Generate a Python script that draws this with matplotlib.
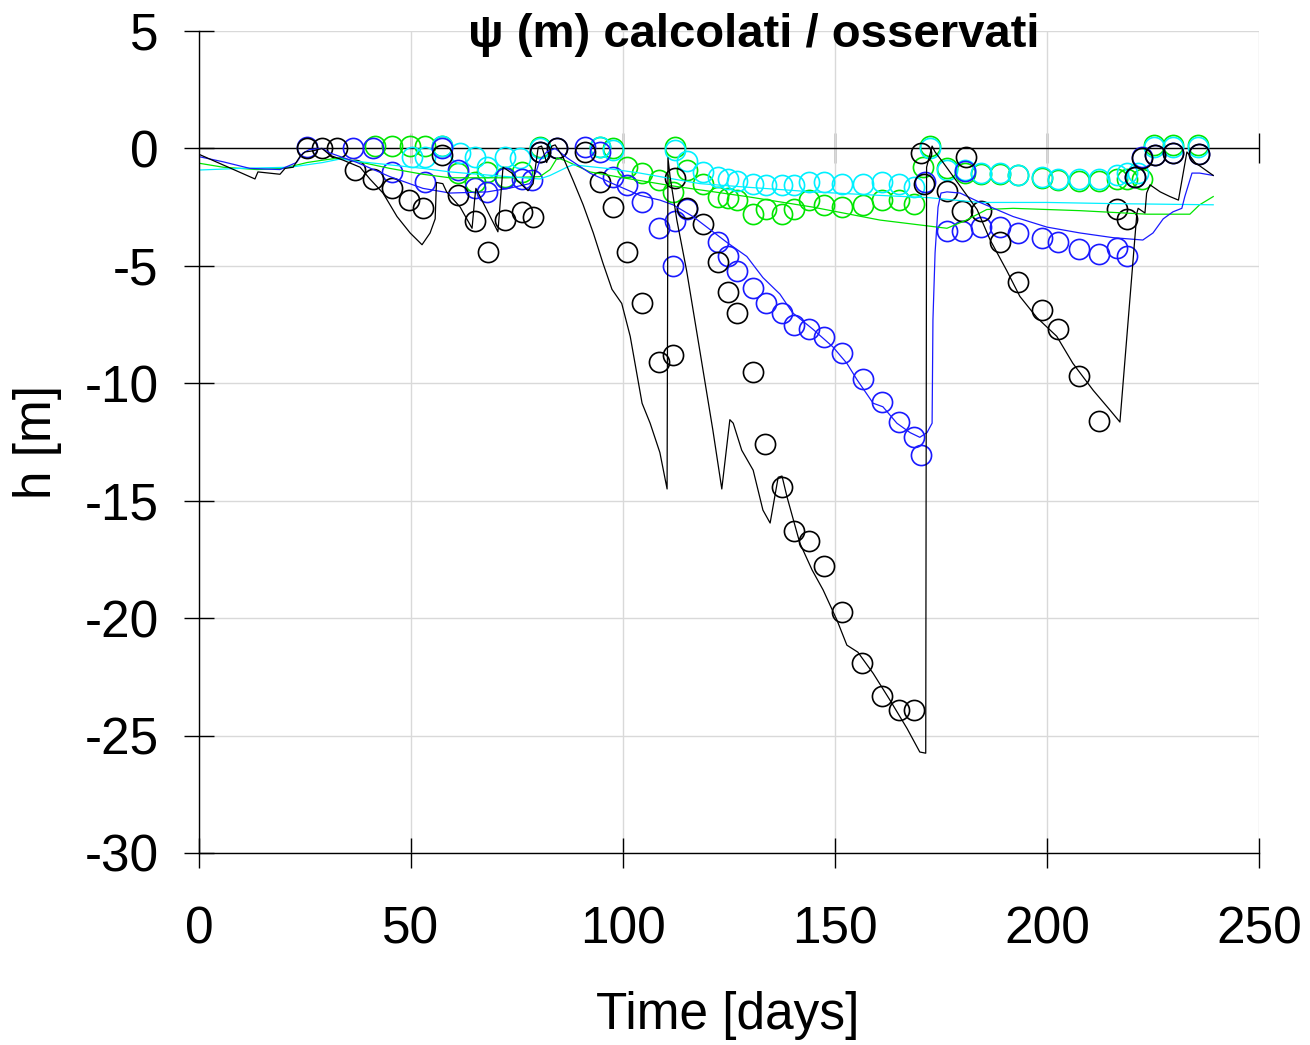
import numpy as np
import matplotlib
matplotlib.use("Agg")
import matplotlib.pyplot as plt

plt.rcParams['font.family'] = ['Liberation Sans', 'DejaVu Sans']
plt.rcParams['axes.unicode_minus'] = False

# simulated (lines)
t_blk = [0, 13.2, 13.9, 19.1, 20.3, 22.2, 23.8, 25, 27, 29, 31, 34, 38, 40.3, 43.4, 46.7, 49.8, 52.6,
         54.5, 55.7, 56, 57.5, 58.4, 61.6, 64.4, 65, 65.3, 70.5, 71.7, 73.8, 75, 77.6, 78.8, 80, 80.8,
         82, 83.2, 84, 85.8, 88.2, 90.6, 93, 95.3, 97.4, 99.7, 101.7, 104.5, 106.4, 108.7, 110.4,
         110.6, 111.1, 112.7, 115, 118.2, 121.2, 123.3, 125.2, 126, 128, 130.7, 133, 134.7, 136.6,
         137.5, 138.7, 141.7, 144.6, 147.2, 150.5, 152.8, 155.4, 159, 163, 167, 170, 171.4, 171.6,
         172.9, 173.6, 175.5, 179.5, 183.5, 186.6, 190.5, 193.6, 197.6, 202.3, 206.1, 210.9, 214.9,
         217.2, 221.2, 221.5, 223.1, 223.5, 224.3, 226.7, 229, 231, 233, 234.9, 239.2]
h_blk = [-0.25, -1.3, -1.0, -1.1, -0.85, -0.8, -0.35, -0.15, -0.1, 0.0, -0.3, -0.5, -0.8, -1.3, -1.9,
         -2.9, -3.6, -4.1, -3.6, -3.0, -1.45, -1.5, -1.85, -2.5, -3.4, -2.2, -1.7, -3.55, -0.8, -1.05,
         -1.35, -1.8, -1.5, 0.05, 0.1, -0.6, 0.1, 0.15, -0.35, -1.35, -2.4, -3.6, -4.9, -6.0, -6.6,
         -8.0, -10.85, -11.7, -12.95, -14.5, -0.4, -1.2, -3.05, -5.2, -8.7, -12.0, -14.5, -11.55,
         -11.7, -12.85, -13.7, -15.4, -15.95, -14.0, -13.95, -14.85, -16.8, -17.95, -18.8, -20.1,
         -21.15, -21.45, -22.35, -23.5, -24.7, -25.7, -25.75, -0.8, 0.1, -0.15, -0.6, -1.6, -2.6,
         -3.9, -5.2, -6.3, -7.2, -8.0, -9.15, -10.3, -11.15, -11.65, -2.75, -2.55, -2.75, -1.9,
         -1.55, -1.85, -2.05, -2.2, -0.15, -0.6, -1.15]

t_blu = [0, 5.7, 12, 19.1, 23, 24.5, 26, 29, 31, 37.3, 45, 52.8, 59.2, 68, 73, 78, 79.5, 80.4, 82, 84,
         86.8, 92.2, 97.6, 104, 108.7, 111.8, 116.5, 120.5, 124.5, 129.2, 133, 137, 140, 144.8,
         149.5, 152.8, 155.2, 159, 161.3, 164.6, 167.7, 170, 171.7, 172.9, 173.1, 173.6, 174.3, 175,
         176.4, 179.5, 184.2, 192, 200, 207.8, 215.6, 222.6, 225, 227.4, 229.7, 231.8, 232.5, 234.2,
         236, 239.2]
h_blu = [-0.35, -0.57, -0.85, -0.9, -0.6, -0.2, -0.05, 0.0, -0.2, -0.6, -1.2, -1.7, -1.9, -1.85,
         -1.7, -1.5, -1.0, -0.5, -0.15, 0.0, -0.4, -1.05, -1.5, -2.0, -2.2, -2.4, -2.9, -3.45, -4.0,
         -4.6, -5.5, -6.2, -7.0, -7.7, -8.45, -9.15, -9.85, -10.85, -11.0, -11.7, -12.1, -12.3,
         -12.1, -11.7, -7.3, -4.45, -2.5, -1.9, -1.85, -1.9, -2.3, -2.9, -3.35, -3.6, -3.8, -3.9,
         -3.6, -3.0, -2.7, -2.55, -2.05, -1.05, -1.05, -1.15]

t_cya = [0, 9.7, 21.5, 29.2, 33.3, 37.2, 45, 52.8, 59.2, 72.6, 80.4, 82.8, 86.8, 88.2, 96.2, 104,
         113.4, 118.2, 129.2, 144.8, 160.6, 172.4, 184, 200, 215.6, 239.2]
h_cya = [-0.92, -0.85, -0.8, -0.6, -0.45, -0.55, -0.7, -0.85, -1.0, -1.2, -1.3, -1.15, -0.8, -0.7,
         -0.85, -1.05, -1.35, -1.5, -1.65, -1.85, -2.0, -2.1, -2.3, -2.3, -2.35, -2.4]

t_grn = [0, 5.7, 13.7, 19.8, 25.5, 29.2, 33.3, 37.2, 45, 52.8, 59.2, 72.6, 80.4, 82.8, 84.5, 86.8,
         92.2, 100, 111.8, 129.2, 144.8, 160.6, 176.4, 181, 185.8, 192, 207.8, 223.6, 233.7, 236,
         239.2]
h_grn = [-0.63, -0.8, -0.9, -0.85, -0.6, -0.5, -0.4, -0.55, -0.85, -1.1, -1.25, -1.25, -1.2, -0.9,
         -0.4, -0.55, -1.0, -1.25, -1.6, -2.05, -2.5, -3.05, -3.4, -3.05, -2.6, -2.55, -2.65, -2.8,
         -2.8, -2.4, -2.05]

# observed (circles)
to_blk = [25.5, 29, 32.5, 36.8, 41, 45.5, 49.5, 52.8, 57.3, 61, 65, 68.2, 72.2, 76.2, 78.8, 80.4,
          84.4, 91, 94.5, 97.7, 100.9, 104.4, 108.5, 111.8, 112.3, 115, 118.9, 122.4, 124.8, 126.9,
          130.7, 133.5, 137.5, 140.3, 143.9, 147.4, 151.7, 156.4, 161.1, 165.1, 168.6, 170.3, 171,
          176.4, 180, 180.9, 184.4, 189, 193.2, 198.8, 202.6, 207.5, 212.3, 216.5, 218.9, 220.8,
          222.4, 225.5, 229.7, 235.8]
ho_blk = [0, 0, 0, -0.9, -1.3, -1.7, -2.2, -2.55, -0.3, -2.0, -3.1, -4.4, -3.05, -2.7, -2.9, -0.15,
          0, -0.15, -1.45, -2.5, -4.4, -6.6, -9.1, -8.8, -1.25, -2.55, -3.2, -4.85, -6.1, -7.0,
          -9.5, -12.6, -14.4, -16.3, -16.7, -17.8, -19.75, -21.9, -23.3, -23.9, -23.9, -0.2, -1.5,
          -1.8, -2.65, -0.35, -2.65, -4.0, -5.7, -6.9, -7.7, -9.7, -11.6, -2.6, -3.0, -1.2, -0.4,
          -0.3, -0.2, -0.25]

to_blu = [25.5, 36.3, 41, 45.5, 53.3, 57.3, 61, 65, 67.9, 72.2, 76.2, 78.5, 80.4, 84.4, 91, 94.6,
          97.7, 100.9, 104.5, 108.5, 111.8, 112.3, 115, 122.4, 124.8, 126.9, 130.7, 133.7, 137.5,
          140.3, 143.9, 147.4, 151.7, 156.6, 161.1, 165.1, 168.6, 170.3, 171.2, 176.4, 180, 180.7,
          184.4, 189, 193.2, 198.8, 202.6, 207.5, 212.3, 216.5, 218.9, 220.8, 222.4, 225.5, 229.7,
          235.8]
ho_blu = [0.05, 0, 0, -1.0, -1.45, 0, -0.9, -1.7, -1.85, -1.25, -1.3, -1.35, -0.15, 0, 0.05, -0.15,
          -1.2, -1.55, -2.3, -3.4, -5.0, -3.1, -2.6, -4.0, -4.6, -5.2, -5.95, -6.6, -7.0, -7.5,
          -7.7, -8.05, -8.7, -9.8, -10.8, -11.65, -12.3, -13.05, -1.45, -3.5, -3.5, -0.95, -3.35,
          -3.35, -3.6, -3.8, -4.0, -4.3, -4.5, -4.25, -4.6, -1.2, -0.35, -0.3, -0.2, -0.25]

to_cya = [50.2, 53.3, 57.3, 61.5, 65, 67.9, 72.2, 75.7, 80.4, 94.6, 97.7, 112.3, 115, 118.9, 122.4,
          124.8, 126.9, 130.7, 133.7, 137.5, 140.3, 143.9, 147.4, 151.7, 156.6, 161.1, 165.1,
          168.6, 172.4, 176.4, 180.7, 184.4, 189, 193.2, 198.8, 202.6, 207.5, 212.3, 216.5, 218.9,
          221.4, 225.2, 229.7, 235.6]
ho_cya = [-0.35, -0.35, 0.1, -0.2, -0.35, -0.8, -0.35, -0.4, 0.0, 0.05, -0.05, -0.05, -0.55, -1.0,
          -1.2, -1.3, -1.4, -1.5, -1.55, -1.55, -1.55, -1.45, -1.45, -1.5, -1.5, -1.45, -1.5,
          -1.65, 0, -0.9, -0.9, -1.05, -1.05, -1.15, -1.2, -1.3, -1.3, -1.3, -1.15, -1.05, -1.05,
          0.05, 0.05, 0.05]

to_grn = [41.5, 45.5, 49.8, 53.3, 57.3, 61, 65, 67.9, 72.2, 76.2, 80.4, 94.6, 97.7, 100.9, 104.5,
          108.5, 111.8, 112.3, 115, 118.9, 122.4, 124.8, 126.9, 130.7, 133.7, 137.5, 140.3, 143.9,
          147.4, 151.7, 156.6, 161.1, 165.1, 168.6, 170.8, 172.4, 176.4, 180.7, 184.4, 189, 193.2,
          198.8, 202.6, 207.5, 212.3, 216.5, 218.9, 222.4, 225.2, 229.7, 235.6]
ho_grn = [0.1, 0.1, 0.1, 0.1, 0.1, -1.05, -1.45, -1.0, -1.2, -1.0, 0.05, 0.05, 0.0, -0.8, -1.05,
          -1.35, -1.85, 0.05, -0.9, -1.5, -2.05, -2.1, -2.2, -2.8, -2.6, -2.8, -2.6, -2.2, -2.4,
          -2.5, -2.4, -2.2, -2.2, -2.35, -0.8, 0.1, -0.85, -1.05, -1.1, -1.1, -1.15, -1.25, -1.35,
          -1.4, -1.4, -1.3, -1.3, -1.3, 0.15, 0.15, 0.15]

c_blk = '#000000'
c_blu = '#1a1aff'
c_cya = '#00f0ff'
c_grn = '#00e600'

fig = plt.figure(figsize=(13.1, 10.45), dpi=100)
ax = fig.add_axes([199/1310, 1-853/1045, 1060/1310, 822/1045])

mk = dict(linestyle='none', marker='o', markersize=14.5, markerfacecolor='none', markeredgewidth=1.2)
ax.plot(to_grn, ho_grn, markeredgecolor=c_grn, **mk)
ax.plot(to_cya, ho_cya, markeredgecolor=c_cya, **mk)
ax.plot(to_blu, ho_blu, markeredgecolor=c_blu, **mk)
ax.plot(to_blk, ho_blk, markeredgecolor=c_blk, **mk)

ax.plot(t_grn, h_grn, color=c_grn, lw=0.9)
ax.plot(t_cya, h_cya, color=c_cya, lw=0.9)
ax.plot(t_blu, h_blu, color=c_blu, lw=0.9)
ax.plot(t_blk, h_blk, color=c_blk, lw=0.9)

# zero line
ax.axhline(0, color='k', lw=1.0, zorder=1.5)

ax.set_xlim(0, 250)
ax.set_ylim(-30, 5)
ax.set_xticks(np.arange(0, 251, 50))
ax.set_yticks(np.arange(-30, 6, 5))
ax.grid(True, color='#d9d9d9', lw=1.0)
ax.set_axisbelow(True)
for s in ['top', 'right']:
    ax.spines[s].set_visible(False)
for s in ['left', 'bottom']:
    ax.spines[s].set_linewidth(1.0)
ax.tick_params(direction='inout', length=22, width=1.0, labelsize=37)
ax.tick_params(axis='x', pad=27)
ax.tick_params(axis='y', pad=18)

# ticks on the zero line
sec = ax.secondary_xaxis(30/35)
sec.set_xticks([50, 100, 150, 200, 250], labels=[])
sec.tick_params(direction='inout', length=22, width=1.0)
sec.spines['top'].set_visible(False)

fig.text(754/1310, 1-35/1045, 'ψ (m) calcolati / osservati', ha='center', va='center',
         fontsize=34, fontweight='bold')
fig.text(728/1310, 1-1016/1045, 'Time [days]', ha='center', va='center', fontsize=37)
fig.text(38/1310, 1-442/1045, 'h [m]', ha='center', va='center', rotation=90, fontsize=37)

fig.savefig('out.png', dpi=100)
